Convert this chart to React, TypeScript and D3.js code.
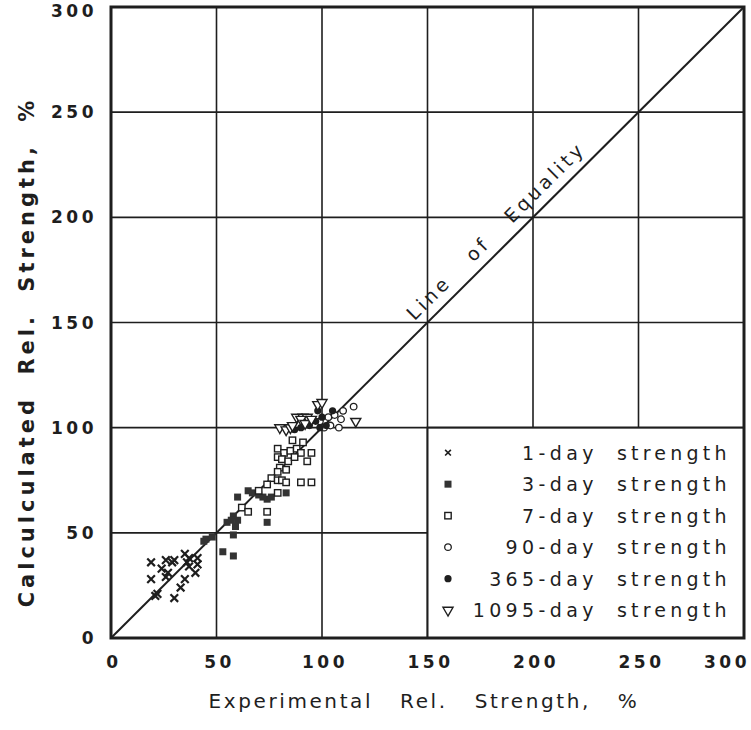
import React from 'react';
import * as d3 from 'd3';

const oneDay: [number, number][] = [
  [19, 36], [26, 37], [29, 36], [30, 37], [35, 40], [37, 38], [36, 36], [41, 38], [41, 35], [19, 28],
  [27, 31], [26, 29], [40, 31], [35, 28], [33, 24], [22, 21], [21, 20], [30, 19], [37, 34], [24, 33],
];
const threeDay: [number, number][] = [
  [53, 41], [58, 39], [60, 67], [58, 58], [57, 56], [55, 55], [59, 53], [60, 56], [58, 49], [45, 47],
  [44, 46], [48, 48], [65, 70], [67, 69], [70, 68], [74, 66], [76, 67], [83, 69], [74, 55], [72, 67],
];
const sevenDay: [number, number][] = [
  [79, 90], [82, 88], [85, 89], [88, 90], [90, 88], [95, 88], [79, 86], [81, 85], [84, 84], [87, 86],
  [93, 84], [80, 81], [83, 80], [79, 79], [76, 76], [79, 75], [81, 75], [83, 74], [90, 74], [95, 74],
  [74, 60], [79, 69], [74, 73], [91, 93], [86, 94], [62, 62], [65, 60], [70, 70],
];
const ninetyDay: [number, number][] = [
  [115, 110], [103, 105], [106, 106], [109, 104], [104, 101], [108, 100], [101, 100], [110, 108], [99, 103],
];
const yearDay: [number, number][] = [
  [98, 108], [100, 105], [102, 101], [97, 103], [105, 108], [99, 100], [94, 101], [90, 100], [87, 99],
];
const threeYearDay: [number, number][] = [
  [80, 100], [83, 99], [85, 100], [86, 101], [88, 105], [91, 105], [93, 105], [90, 104], [92, 102],
  [98, 111], [100, 112], [116, 103], [95, 104],
];

const ticks = [0, 50, 100, 150, 200, 250, 300];
const legendNames = ['1-day', '3-day', '7-day', '90-day', '365-day', '1095-day'];
const equalityLine = [0, 300];

const font = '"DejaVu Sans", sans-serif';
const ink = '#1e1e1e';

const x = d3.scaleLinear().domain([0, 300]).range([111, 744]);
const y = d3.scaleLinear().domain([0, 300]).range([638, 7]);

const crossPath = d3.symbol(d3.symbolX, 40)()!;
const triPath = d3.symbol(d3.symbolTriangle, 44)()!;

// draws one marker kind at (cx, cy)
const Marker = ({ kind, cx, cy, s = 1 }: { kind: number; cx: number; cy: number; s?: number }) => {
  const t = `translate(${cx},${cy}) scale(${s})`;
  switch (kind) {
    case 0:
      return <path d={crossPath} transform={t} stroke={ink} strokeWidth={2.2} fill="none" />;
    case 1:
      return <rect x={-3.5} y={-3.5} width={7} height={7} transform={t} fill="#333" />;
    case 2:
      return <rect x={-3.2} y={-3.2} width={6.4} height={6.4} transform={t} fill="#fff" stroke={ink} strokeWidth={1.4} />;
    case 3:
      return <circle r={3.3} transform={t} fill="#fff" stroke={ink} strokeWidth={1.3} />;
    case 4:
      return <circle r={3.6} transform={t} fill={ink} />;
    default:
      return <path d={triPath} transform={`${t} rotate(180)`} fill="#fff" stroke={ink} strokeWidth={1.4} />;
  }
};

const series = [oneDay, threeDay, sevenDay, ninetyDay, yearDay, threeYearDay];

export default function App() {
  const eqAt = 188;
  const lx = x(eqAt) - 7;
  const ly = y(eqAt) - 7;
  const legendTop = y(100);
  return (
    <svg width={751} height={730} style={{ position: 'absolute', left: 0, top: 0, background: '#fff' }}>
      {/* grid */}
      {ticks.map((t) => (
        <g key={'g' + t}>
          <line x1={x(t)} x2={x(t)} y1={y(0)} y2={y(300)} stroke={ink} strokeWidth={1.6} />
          <line x1={x(0)} x2={x(300)} y1={y(t)} y2={y(t)} stroke={ink} strokeWidth={1.6} />
        </g>
      ))}
      {/* legend box covers the lower right grid cells */}
      <rect x={x(150)} y={legendTop} width={x(300) - x(150)} height={y(0) - legendTop} fill="#fff" stroke={ink} strokeWidth={2} />
      {/* line of equality */}
      <line x1={x(equalityLine[0])} y1={y(equalityLine[0])} x2={x(equalityLine[1])} y2={y(equalityLine[1])} stroke={ink} strokeWidth={2} />
      <text
        transform={`translate(${lx},${ly}) rotate(-44.9)`}
        textAnchor="middle"
        fontFamily={font}
        fontSize={19}
        letterSpacing={3.5}
        wordSpacing={20}
        fill={ink}
      >
        Line of Equality
      </text>
      {/* points */}
      {series.map((pts, k) =>
        pts.map((p, i) => <Marker key={k + '-' + i} kind={k} cx={x(p[0])} cy={y(p[1])} />)
      )}
      {/* frame */}
      <rect x={x(0)} y={y(300)} width={x(300) - x(0)} height={y(0) - y(300)} fill="none" stroke={ink} strokeWidth={3} />
      {/* legend */}
      {legendNames.map((name, i) => {
        const ry = legendTop + 25 + i * 31.5;
        return (
          <g key={name} fontFamily={font} fontSize={19} fill={ink}>
            <Marker kind={i} cx={448} cy={ry} s={i === 0 ? 0.75 : 1} />
            <text x={598} y={ry + 7} textAnchor="end" letterSpacing={4.4}>{name}</text>
            <text x={617} y={ry + 7} letterSpacing={4.2}>strength</text>
          </g>
        );
      })}
      {/* tick labels */}
      {ticks.map((t) => (
        <text key={'xt' + t} x={t === 300 ? 750 : x(t) + 3} y={668} textAnchor={t === 300 ? 'end' : 'middle'} fontFamily={font} fontSize={17} fontWeight="bold" letterSpacing={3.5} fill={ink}>
          {t}
        </text>
      ))}
      {ticks.map((t) => (
        <text key={'yt' + t} x={97} y={y(t) + 6 + (t === 300 ? 4 : 0)} textAnchor="end" fontFamily={font} fontSize={17} fontWeight="bold" letterSpacing={3.5} fill={ink}>
          {t}
        </text>
      ))}
      {/* axis titles */}
      <text x={424} y={708} textAnchor="middle" fontFamily={font} fontSize={20} letterSpacing={2.6} wordSpacing={18} fill={ink}>
        Experimental Rel. Strength, %
      </text>
      <text transform="translate(34,352) rotate(-90)" textAnchor="middle" fontFamily={font} fontSize={21} fontWeight="bold" letterSpacing={4} wordSpacing={10} fill={ink}>
        Calculculated Rel. Strength, %
      </text>
    </svg>
  );
}
